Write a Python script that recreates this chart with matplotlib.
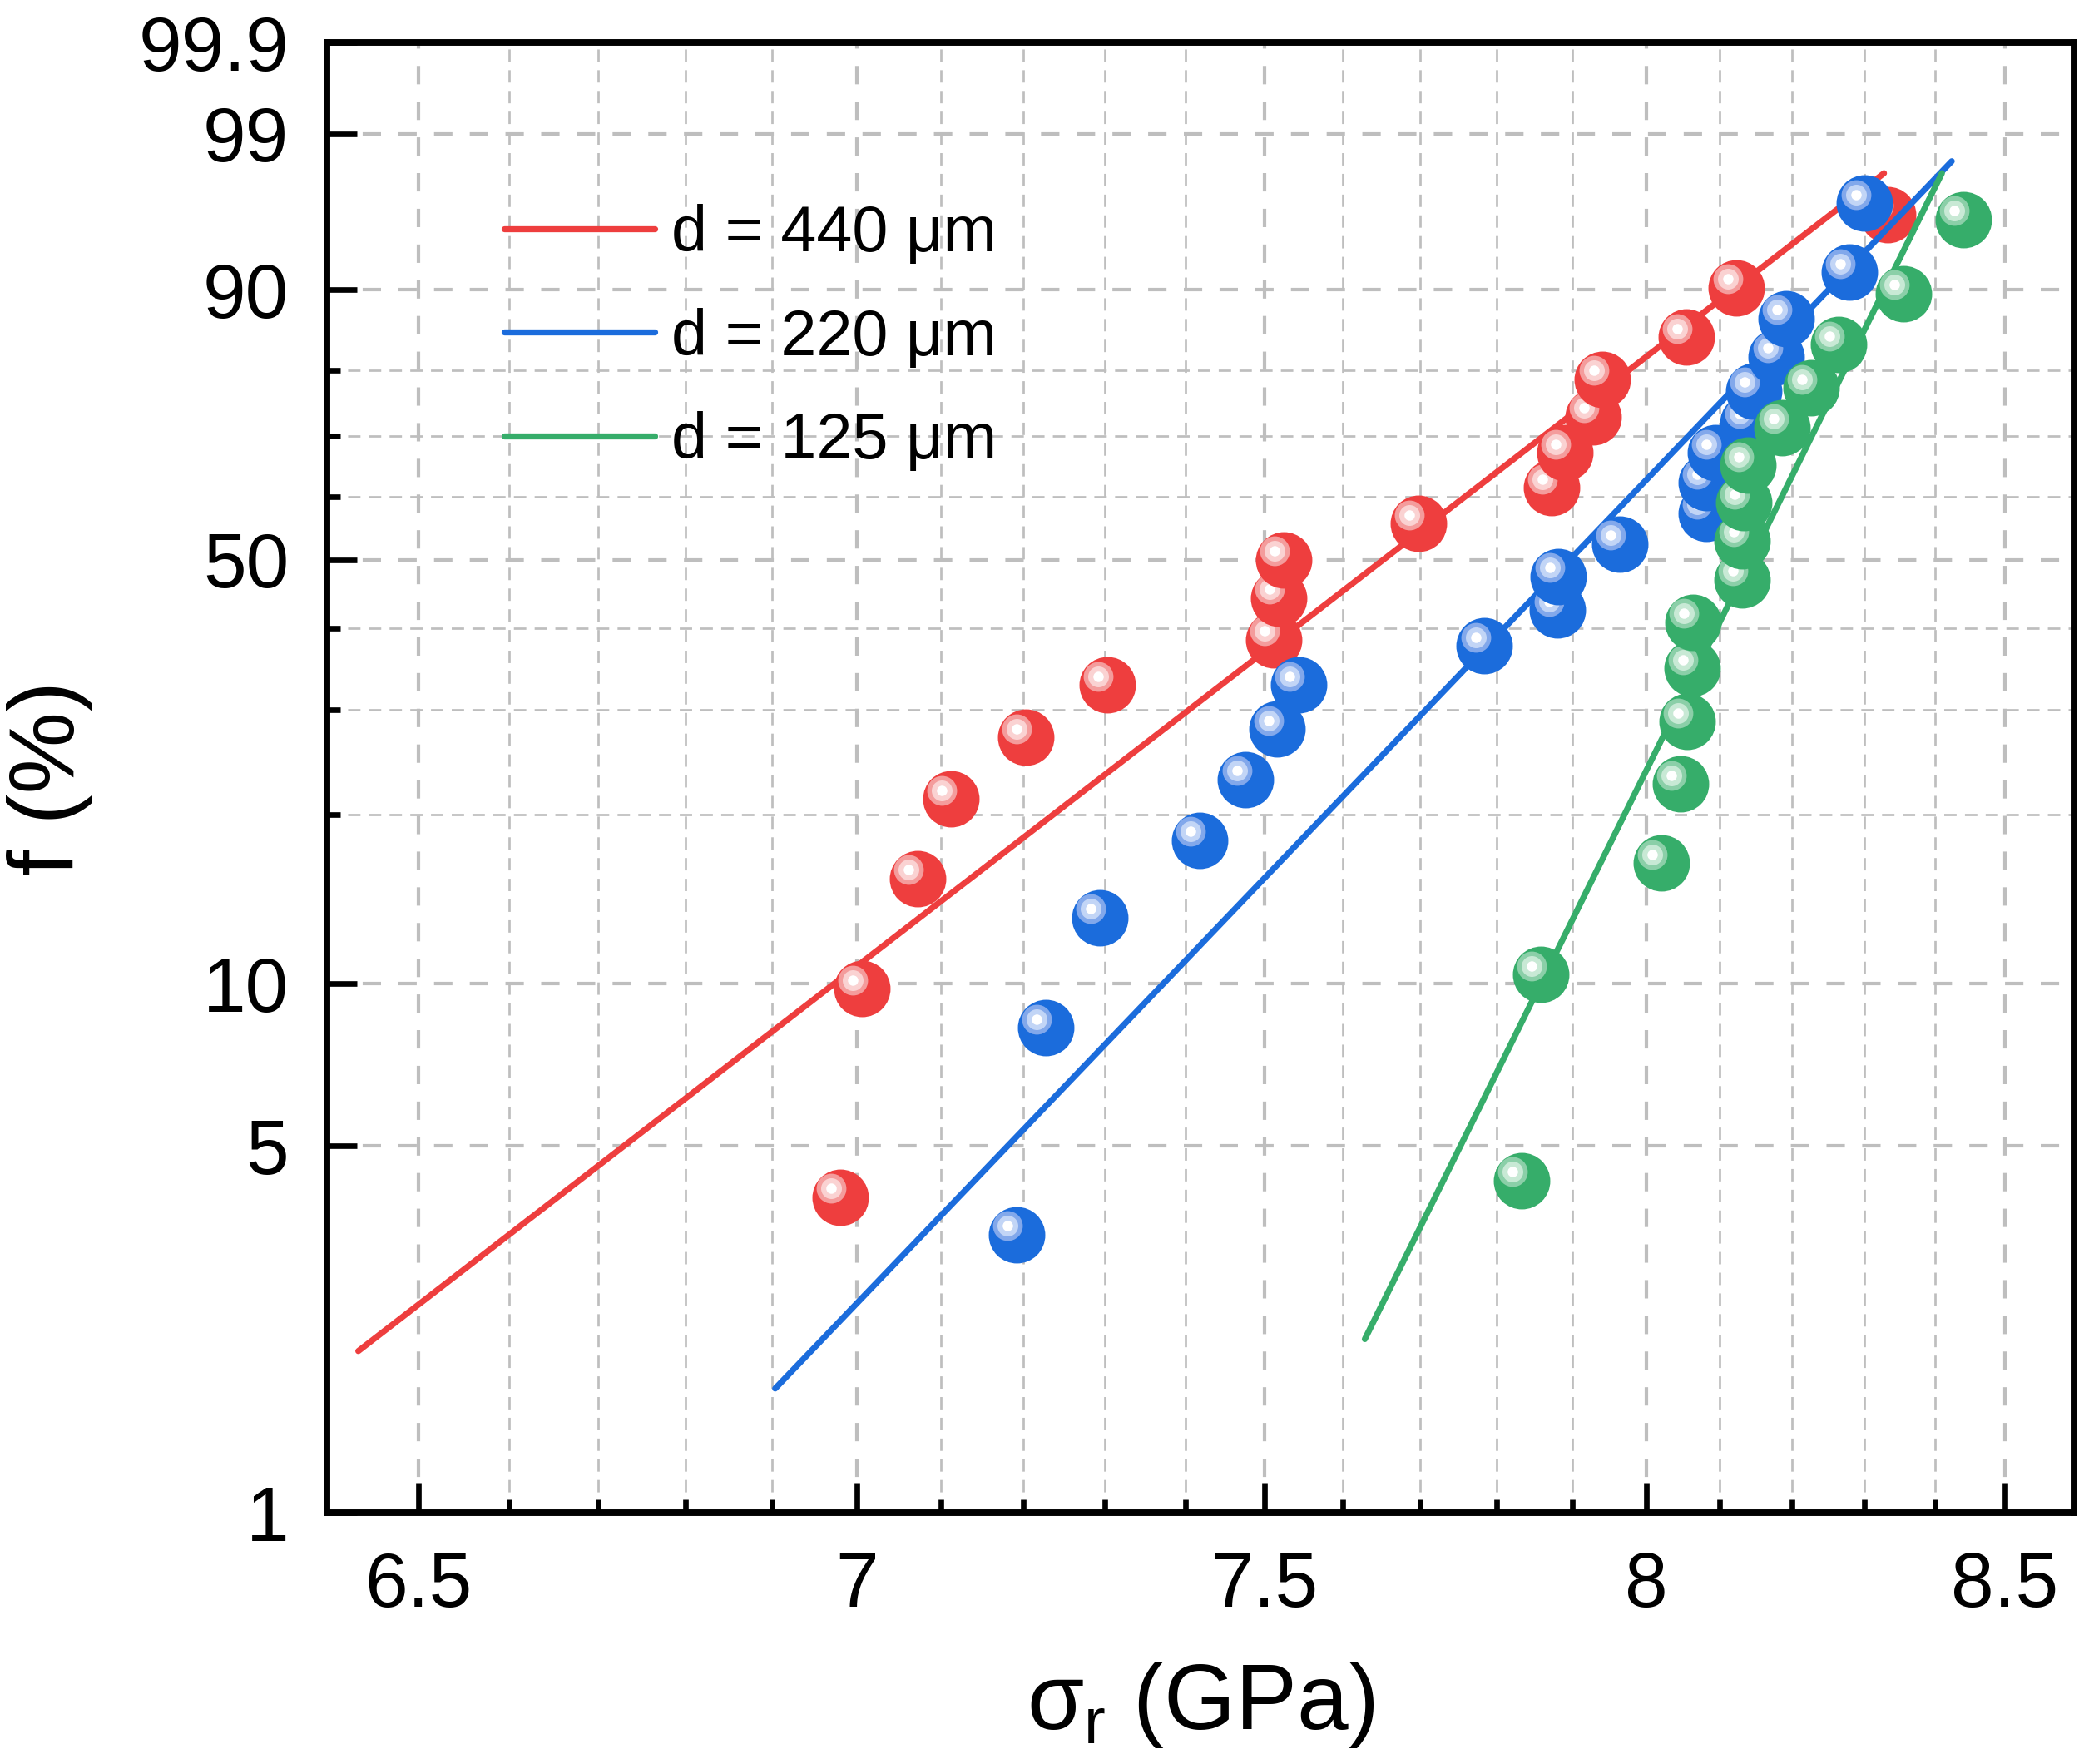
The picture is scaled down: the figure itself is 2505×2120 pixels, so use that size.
import numpy as np
import matplotlib
matplotlib.use('Agg')
import matplotlib.pyplot as plt
from matplotlib.ticker import FixedLocator, FixedFormatter, NullFormatter
from matplotlib.transforms import offset_copy

plt.rcParams['font.family'] = ['Liberation Sans', 'DejaVu Sans']
plt.rcParams['mathtext.fontset'] = 'custom'
plt.rcParams['mathtext.rm'] = 'Liberation Sans'
plt.rcParams['mathtext.it'] = 'Liberation Sans'
plt.rcParams['mathtext.bf'] = 'Liberation Sans:bold'

# ---------------- data ----------------
series_labels = ['d = 440 μm', 'd = 220 μm', 'd = 125 μm']

red_sigma = [6.980, 7.006, 7.072, 7.112, 7.203, 7.303, 7.511, 7.518, 7.524,
             7.697, 7.873, 7.890, 7.928, 7.941, 8.054, 8.123, 8.333]
red_F = [4.0, 9.8, 15.5, 21.3, 27.0, 32.8, 38.5, 44.3, 50.0,
         55.7, 61.5, 67.2, 73.0, 78.7, 84.5, 90.2, 96.0]

blue_sigma = [7.192, 7.227, 7.294, 7.418, 7.476, 7.516, 7.543, 7.784, 7.881, 7.882,
              7.964, 8.081, 8.081, 8.094, 8.139, 8.146, 8.178, 8.191, 8.279, 8.301]
blue_F = [3.4, 8.3, 13.2, 18.1, 23.0, 27.9, 32.8, 37.7, 42.6, 47.5,
          52.5, 57.4, 62.3, 67.2, 72.1, 77.0, 81.9, 86.8, 91.7, 96.6]

green_sigma = [7.833, 7.858, 8.020, 8.046, 8.055, 8.062, 8.063, 8.130,
               8.131, 8.133, 8.138, 8.186, 8.226, 8.264, 8.355, 8.440]
green_F = [4.3, 10.4, 16.5, 22.6, 28.7, 34.8, 40.9, 47.0,
           53.0, 59.1, 65.2, 71.3, 77.4, 83.5, 89.6, 95.7]

# Weibull fit lines (end points)
red_fit_sigma = [6.434, 8.328]
red_fit_F = [2.04, 97.9]
blue_fit_sigma = [6.904, 8.424]
blue_fit_F = [1.73, 98.3]
green_fit_sigma = [7.628, 8.410]
green_fit_F = [2.15, 97.9]

x_ticks = [6.5, 7, 7.5, 8, 8.5]
x_ticklabels = ['6.5', '7', '7.5', '8', '8.5']
x_minor = [6.6, 6.7, 6.8, 6.9, 7.1, 7.2, 7.3, 7.4, 7.6, 7.7, 7.8, 7.9,
           8.1, 8.2, 8.3, 8.4]
y_ticks = [1, 5, 10, 50, 90, 99, 99.9]
y_ticklabels = ['1', '5', '10', '50', '90', '99', '99.9']
y_minor = [20, 30, 40, 60, 70, 80]

# ---------------- styles ----------------
colors = ['#EE3E3E', '#1B6CDC', '#36AD6A']
ring1 = ['#F49C9C', '#82A8EB', '#8BCFA8']
ring2 = ['#FAD2D2', '#C2D5F6', '#C8E9D5']
grid_color = '#BEBEBE'


def weib_fwd(F):
    F = np.clip(np.asarray(F, dtype=float), 1e-9, 100 - 1e-9)
    return np.log(-np.log(1.0 - F / 100.0))


def weib_inv(w):
    w = np.asarray(w, dtype=float)
    return 100.0 * (1.0 - np.exp(-np.exp(w)))


W, H, DPI = 2505, 2120, 300
fig = plt.figure(figsize=(W / DPI, H / DPI), dpi=DPI)
ax = fig.add_axes([393 / W, 1 - 1818 / H, 2100 / W, 1767 / H])

ax.set_xscale('log')
ax.set_yscale('function', functions=(weib_fwd, weib_inv))
ax.set_xlim(6.4, 8.6)
ax.set_ylim(1, 99.9)

ax.xaxis.set_major_locator(FixedLocator(x_ticks))
ax.xaxis.set_major_formatter(FixedFormatter(x_ticklabels))
ax.xaxis.set_minor_locator(FixedLocator(x_minor))
ax.xaxis.set_minor_formatter(NullFormatter())
ax.yaxis.set_major_locator(FixedLocator(y_ticks))
ax.yaxis.set_major_formatter(FixedFormatter(y_ticklabels))
ax.yaxis.set_minor_locator(FixedLocator(y_minor))
ax.yaxis.set_minor_formatter(NullFormatter())

ax.set_axisbelow(True)
ax.grid(which='major', color=grid_color, linewidth=1.0, linestyle=(0, (5.3, 5.0)))
ax.grid(which='minor', color=grid_color, linewidth=0.65, linestyle=(0, (5.5, 3.7)))

for s in ax.spines.values():
    s.set_linewidth(1.9)
    s.set_zorder(50)

ax.tick_params(which='both', direction='in', top=False, right=False,
               width=1.6, labelsize=22.3, pad=11, zorder=49)
ax.tick_params(which='major', length=8.6)
ax.tick_params(which='minor', length=3.8)

off = offset_copy(ax.transData, fig=fig, x=-2.6, y=2.5, units='points')


def draw_series(sig, F, fsig, fF, k, z0):
    ax.plot(fsig, fF, '-', color=colors[k], lw=1.75, solid_capstyle='round',
            zorder=z0, label=series_labels[k])
    for i, (x, y) in enumerate(zip(sig, F)):
        z = z0 + 0.5 + i * 0.01
        ax.plot([x], [y], 'o', ms=16.3, mfc=colors[k], mec='none', zorder=z)
        ax.plot([x], [y], 'o', ms=8.6, mfc=ring1[k], mec='none', zorder=z + 0.002,
                transform=off)
        ax.plot([x], [y], 'o', ms=6.0, mfc=ring2[k], mec='none', zorder=z + 0.004,
                transform=off)
        ax.plot([x], [y], 'o', ms=3.0, mfc='white', mec='none', zorder=z + 0.006,
                transform=off)


draw_series(red_sigma, red_F, red_fit_sigma, red_fit_F, 0, 3)
draw_series(blue_sigma, blue_F, blue_fit_sigma, blue_fit_F, 1, 5)
draw_series(green_sigma, green_F, green_fit_sigma, green_fit_F, 2, 7)

ax.set_xlim(6.4, 8.6)
ax.set_ylim(1, 99.9)

leg = ax.legend(loc='upper left', bbox_to_anchor=(0.1014, 0.890), frameon=False,
                fontsize=18.6, handlelength=2.33, handletextpad=0.26,
                labelspacing=0.66, borderpad=0, borderaxespad=0)
leg.set_zorder(60)

ax.set_xlabel(r'$\sigma_r$ (GPa)', fontsize=26.6)
ax.set_ylabel('f (%)', fontsize=26.6)
ax.xaxis.set_label_coords(0.5, -0.100)
ax.yaxis.set_label_coords(-0.134, 0.5)

fig.savefig('out.png', dpi=DPI)
